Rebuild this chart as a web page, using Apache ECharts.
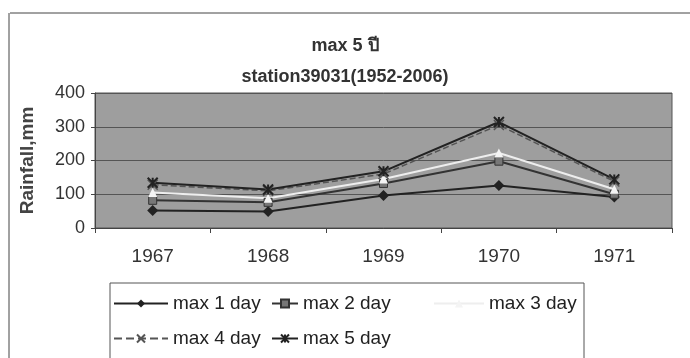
<!DOCTYPE html>
<html><head><meta charset="utf-8">
<script src="https://cdn.jsdelivr.net/npm/echarts@6/dist/echarts.min.js"></script>
<style>html,body{margin:0;padding:0;background:#fff}#c{width:690px;height:358px}</style>
</head><body><div id="c"></div>
<script>
var categories = ['1967','1968','1969','1970','1971'];
var seriesNames = ['max 1 day','max 2 day','max 3 day','max 4 day','max 5 day'];
var max1 = [52, 49, 96, 126, 92];
var max2 = [82, 76, 132, 198, 100];
var max3 = [105, 88, 145, 222, 115];
var max4 = [128, 110, 160, 305, 138];
var max5 = [134, 114, 168, 314, 144];
var yTicks = [0, 100, 200, 300, 400];

var FONT = '"Liberation Sans", Arial, "DejaVu Sans", sans-serif';
var xPath = 'path://M0,0L10,10M10,0L0,10';
var starPath = 'path://M0,0L10,10M10,0L0,10M5,0L5,10';

var chart = echarts.init(document.getElementById('c'));
chart.setOption({
  animation:false,
  backgroundColor:'#fff',
  title:[
    {text:'max 5 ปี', left:'center', top:32, textStyle:{fontFamily:FONT, fontSize:18, fontWeight:'bold', color:'#333'}},
    {text:'station39031(1952-2006)', left:'center', top:63, textStyle:{fontFamily:FONT, fontSize:18, fontWeight:'bold', color:'#333'}}
  ],
  grid:{left:95, right:18, top:93, bottom:130, show:true, backgroundColor:'#9e9e9e', borderColor:'#555', borderWidth:1},
  xAxis:{type:'category', data:categories, boundaryGap:true,
    axisLine:{lineStyle:{color:'#444'}},
    axisTick:{show:true, length:5, lineStyle:{color:'#444'}},
    axisLabel:{fontFamily:FONT, fontSize:19, color:'#333', margin:19}},
  yAxis:{type:'value', min:yTicks[0], max:yTicks[yTicks.length-1], interval:100,
    name:'Rainfall,mm', nameLocation:'middle', nameGap:58, nameRotate:90,
    nameTextStyle:{fontFamily:FONT, fontSize:19, fontWeight:'bold', color:'#444'},
    axisLine:{show:true, lineStyle:{color:'#444'}},
    axisTick:{show:true, length:4, lineStyle:{color:'#444'}},
    splitLine:{lineStyle:{color:'#555', width:1}},
    axisLabel:{fontFamily:FONT, fontSize:18, color:'#333', margin:10}},
  legend:[
    {orient:'vertical', left:108, top:289, itemGap:16, itemWidth:54, itemHeight:10,
     data:[seriesNames[0], seriesNames[3]], textStyle:{fontFamily:FONT, fontSize:19, color:'#222'}},
    {orient:'vertical', left:266, top:289, itemGap:16, itemWidth:26, itemHeight:10,
     data:[seriesNames[1], seriesNames[4]], textStyle:{fontFamily:FONT, fontSize:19, color:'#222'}},
    {orient:'vertical', left:428, top:289, itemGap:16, itemWidth:50, itemHeight:10,
     data:[seriesNames[2]], textStyle:{fontFamily:FONT, fontSize:19, color:'#222'}}
  ],
  graphic:[
    {type:'rect', shape:{x:110, y:283, width:474, height:80}, style:{fill:null, stroke:'#555', lineWidth:1}, silent:true},
    {type:'line', shape:{x1:10, y1:13, x2:690, y2:13}, style:{stroke:'#444', lineWidth:1}, silent:true},
    {type:'line', shape:{x1:9, y1:13, x2:9, y2:358}, style:{stroke:'#444', lineWidth:1}, silent:true}
  ],
  series:[
    {name:seriesNames[0], type:'line', data:max1, symbol:'diamond', symbolSize:11,
     lineStyle:{color:'#222', width:2}, itemStyle:{color:'#222'}},
    {name:seriesNames[1], type:'line', data:max2, symbol:'rect', symbolSize:8,
     lineStyle:{color:'#333', width:2}, itemStyle:{color:'#777', borderColor:'#333', borderWidth:1}},
    {name:seriesNames[2], type:'line', data:max3, symbol:'triangle', symbolSize:9,
     lineStyle:{color:'#eeeeee', width:2}, itemStyle:{color:'#f4f4f4'}},
    {name:seriesNames[3], type:'line', data:max4, symbol:xPath, symbolSize:10,
     lineStyle:{color:'#555', width:1.5, type:'dashed'}, itemStyle:{color:'#fff', borderColor:'#555', borderWidth:1.5}},
    {name:seriesNames[4], type:'line', data:max5, symbol:starPath, symbolSize:10,
     lineStyle:{color:'#222', width:2}, itemStyle:{color:'#222', borderColor:'#222', borderWidth:2}}
  ]
});
</script></body></html>
